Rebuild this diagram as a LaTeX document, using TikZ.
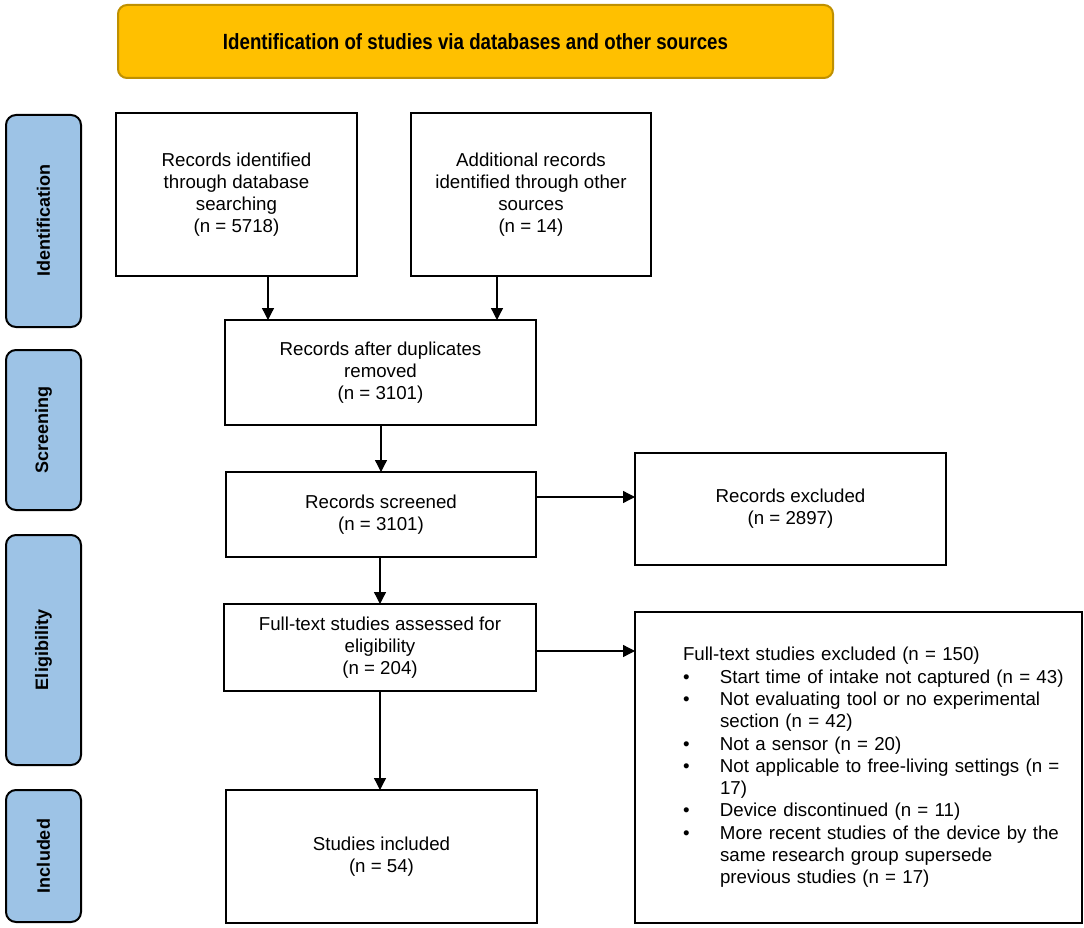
\documentclass[tikz,border=0pt]{standalone}
\usepackage{fontspec}
\setmainfont{Liberation Sans}
\newfontfamily\hdrfont[FakeStretch=0.85]{Liberation Sans Bold}
\usetikzlibrary{arrows.meta}
\definecolor{hdrfill}{HTML}{FFC000}
\definecolor{hdredge}{HTML}{BF9000}
\definecolor{phasefill}{HTML}{9DC3E6}
\newcommand{\bitem}{\makebox[37pt][l]{\textbullet}}
\newcommand{\bcont}{\hspace*{37pt}}
\begin{document}
\begin{tikzpicture}[x=1pt,y=-1pt,
  flowbox/.style={draw=black, line width=2pt, inner sep=0pt, outer sep=0pt, align=center,
    font=\fontsize{18.7}{21.8}\selectfont},
  phase/.style={draw=black, line width=2pt, fill=phasefill, rounded corners=10pt,
    minimum height=75pt, inner sep=0pt, outer sep=0pt, rotate=90,
    font=\bfseries\fontsize{18}{21}\selectfont},
  hdrbox/.style={draw=hdredge, fill=hdrfill, line width=2pt, rounded corners=9pt,
    inner sep=0pt, outer sep=0pt, font=\hdrfont\fontsize{22}{26}\selectfont},
  arr/.style={line width=1.3pt, -{Triangle[length=12pt,width=12pt]}}]
\useasboundingbox (0,0) rectangle (1084,928);

% header
\node[hdrbox, minimum width=715pt, minimum height=73pt] (hdr) at (475.5,41.5)
  {Identification of studies via databases and other sources};

% phase labels
\node[phase, minimum width=212pt] (pid) at (43.5,221) {Identification};
\node[phase, minimum width=160pt] (psc) at (43.5,430) {Screening};
\node[phase, minimum width=230pt] (pel) at (43.5,650) {Eligibility};
\node[phase, minimum width=132pt] (pin) at (43.5,856) {Included};

% flow boxes
\node[flowbox, minimum width=241pt, minimum height=163pt] (db) at (236.5,194.5)
  {Records identified\\through database\\searching\\(n = 5718)};
\node[flowbox, minimum width=240pt, minimum height=163pt] (other) at (531,194.5)
  {Additional records\\identified through other\\sources\\(n = 14)};
\node[flowbox, minimum width=311pt, minimum height=105pt] (dup) at (380.5,372.5)
  {Records after duplicates\\removed\\(n = 3101)};
\node[flowbox, minimum width=310pt, minimum height=85pt] (scr) at (381,514.5)
  {Records screened\\(n = 3101)};
\node[flowbox, minimum width=311pt, minimum height=112pt] (exc) at (790.5,509)
  {Records excluded\\(n = 2897)};
\node[flowbox, minimum width=312pt, minimum height=87pt] (full) at (380,647.5)
  {Full-text studies assessed for\\eligibility\\(n = 204)};
\node[flowbox, align=left, text width=351pt, minimum width=447pt, minimum height=311pt,
  font=\fontsize{18.7}{22.3}\selectfont] (fexc) at (858.5,767.5)
  {\vbox{\hbox{Full-text studies excluded (n = 150)}
   \hbox{\bitem Start time of intake not captured (n = 43)}
   \hbox{\bitem Not evaluating tool or no experimental}
   \hbox{\bcont section (n = 42)}
   \hbox{\bitem Not a sensor (n = 20)}
   \hbox{\bitem Not applicable to free-living settings (n =}
   \hbox{\bcont 17)}
   \hbox{\bitem Device discontinued (n = 11)}
   \hbox{\bitem More recent studies of the device by the}
   \hbox{\bcont same research group supersede}
   \hbox{\bcont previous studies (n = 17)}}};
\node[flowbox, minimum width=311pt, minimum height=133pt] (inc) at (381.5,856.5)
  {Studies included\\(n = 54)};

% connectors
\coordinate (c1) at (268,300);
\coordinate (c2) at (497,300);
\draw[arr] (db.south -| c1) -- (dup.north -| c1);
\draw[arr] (other.south -| c2) -- (dup.north -| c2);
\draw[arr] (dup.south -| scr.north) -- (scr.north);
\coordinate (c3) at (580,497);
\draw[arr] (scr.east |- c3) -- (exc.west |- c3);
\draw[arr] (scr.south -| full.north) -- (full.north);
\coordinate (c4) at (580,651);
\draw[arr] (full.east |- c4) -- (fexc.west |- c4);
\draw[arr] (full.south) -- (inc.north -| full.south);
\end{tikzpicture}
\end{document}
